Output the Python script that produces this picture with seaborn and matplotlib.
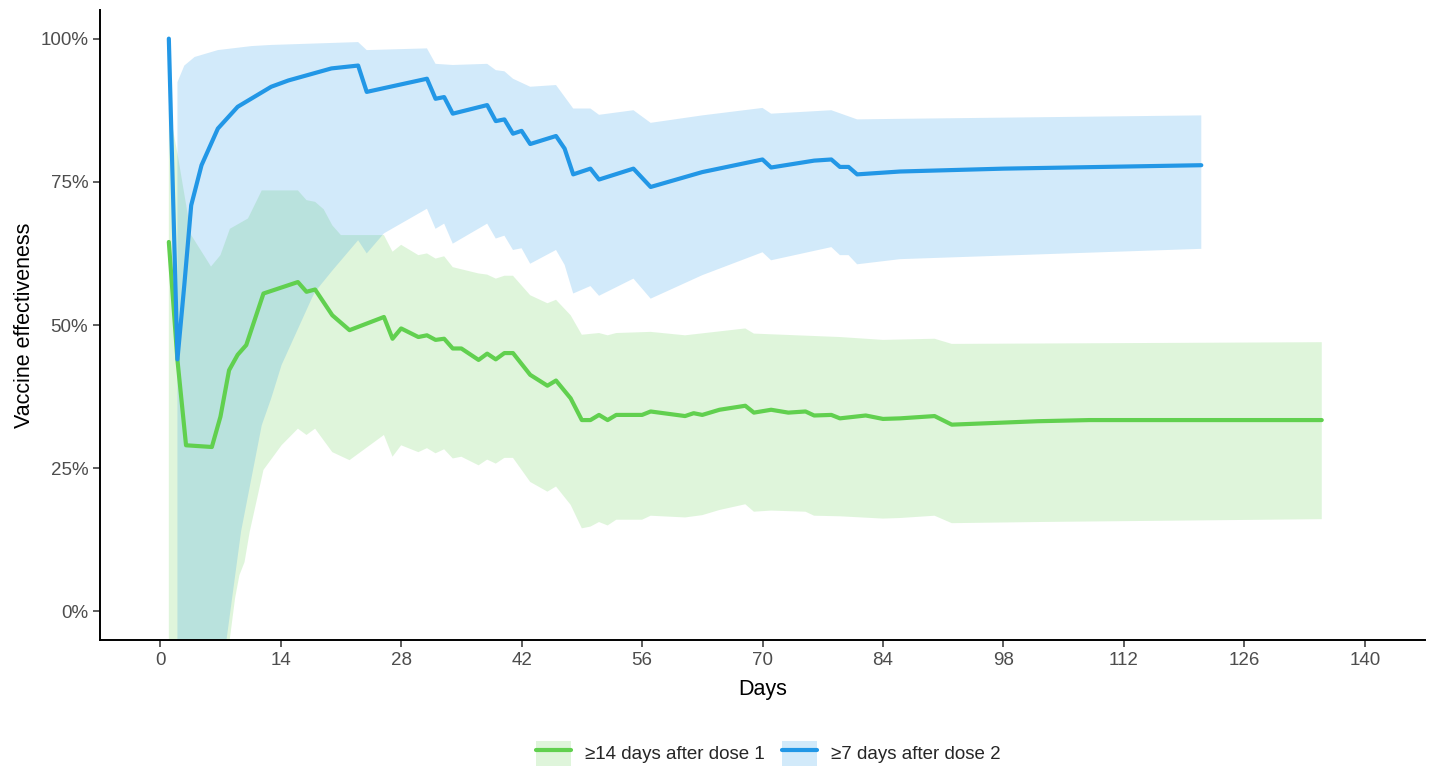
import matplotlib
matplotlib.use("Agg")
import matplotlib.pyplot as plt
import numpy as np
import pandas as pd
import seaborn as sns
from matplotlib.legend_handler import HandlerTuple
from matplotlib.lines import Line2D
from matplotlib.patches import Patch

# Datos (dias, efectividad en %)
dosis1_dias = [1, 2, 3, 6, 7, 8, 9, 10, 12, 16, 17, 18, 20, 22, 26, 27, 28, 30, 31, 32,
               33, 34, 35, 37, 38, 39, 40, 41, 43, 45, 46, 47.7, 49, 50, 51, 52, 53, 56, 57, 61,
               62, 63, 65, 68, 69, 71, 73, 75, 76, 78, 79, 82, 84, 86, 90, 92, 102, 108, 135]
dosis1_ve = [64.5, 43.9, 29.0, 28.7, 34.0, 42.1, 44.8, 46.5, 55.5, 57.5, 55.8, 56.2, 51.7, 49.1,
             51.4, 47.6, 49.4, 47.9, 48.2, 47.4, 47.6, 45.9, 45.9, 43.9, 45.0, 44.0, 45.1, 45.1,
             41.3, 39.4, 40.3, 37.2, 33.4, 33.4, 34.3, 33.4, 34.3, 34.3, 34.9, 34.1, 34.6, 34.3,
             35.2, 35.9, 34.7, 35.2, 34.7, 34.9, 34.2, 34.3, 33.7, 34.2, 33.6, 33.7, 34.1, 32.6,
             33.2, 33.4, 33.4]

dosis1_sup_dias = [1, 2, 3.6, 5.9, 7, 8.1, 10.2, 11.8, 16, 17, 18, 19, 20, 21, 26, 27, 28, 30,
                   31, 32, 33, 34, 37, 38, 39, 40, 41, 43, 45, 46, 47.7, 49, 51, 52, 53, 57, 61,
                   68, 69, 79, 84, 90, 92, 135]
dosis1_sup = [88, 80, 65.7, 60.2, 62.2, 66.8, 68.6, 73.5, 73.5, 71.8, 71.5, 70.2, 67.4, 65.7,
              65.7, 62.8, 64.0, 62.2, 62.5, 61.6, 62.0, 60.1, 59.0, 58.8, 58.1, 58.6, 58.6, 55.2,
              53.8, 54.4, 51.7, 48.3, 48.6, 48.2, 48.6, 48.8, 48.2, 49.4, 48.5, 47.9, 47.4, 47.6,
              46.7, 47.0]

dosis1_inf_dias = [1, 4, 6, 8.1, 8.7, 9.2, 9.8, 10.4, 12, 14.1, 16, 17, 18, 20, 22, 26, 27, 28,
                   30, 31, 32, 33, 34, 35, 37, 38, 39, 40, 41, 43, 45, 46, 47.7, 49, 50, 51, 52,
                   53, 56, 57, 61, 63, 65, 68, 69, 71, 75, 76, 79, 84, 86, 90, 92, 102, 135]
dosis1_inf = [-200, -100, -30, -4.7, 2.3, 6.3, 8.6, 13.9, 24.7, 29.0, 31.9, 30.8, 31.9, 27.8,
              26.4, 30.8, 27.0, 29.0, 27.8, 28.5, 27.6, 28.3, 26.7, 27.0, 25.5, 26.5, 25.8, 26.8,
              26.8, 22.6, 20.9, 21.8, 18.6, 14.5, 14.8, 15.6, 15.0, 16.0, 16.0, 16.7, 16.4, 16.8,
              17.7, 18.7, 17.4, 17.6, 17.4, 16.7, 16.6, 16.2, 16.3, 16.7, 15.4, 15.6, 16.1]

dosis2_dias = [1, 2, 2.8, 3.6, 4.8, 6.7, 9, 12.9, 14.9, 19.9, 23, 24, 31, 32, 33, 34, 38, 39,
               40, 41, 42, 43, 46, 47, 48, 50, 51, 55, 57, 63, 70, 71, 76, 78, 79, 80, 81, 86,
               98, 121]
dosis2_ve = [100, 44, 57, 70.9, 77.9, 84.3, 88.1, 91.6, 92.7, 94.8, 95.3, 90.7, 93.0, 89.5,
             89.8, 86.9, 88.4, 85.6, 85.9, 83.4, 83.9, 81.6, 83.0, 80.8, 76.3, 77.3, 75.4, 77.3,
             74.1, 76.7, 78.9, 77.5, 78.7, 78.9, 77.6, 77.6, 76.3, 76.8, 77.3, 77.9]

dosis2_sup_dias = [2, 2.8, 4, 6.7, 10.6, 12.9, 23, 24, 31, 32, 34, 38, 39, 40, 41, 43, 46, 48,
                   50, 51, 55, 57, 63, 70, 71, 78, 81, 86, 121]
dosis2_sup = [92.4, 95.3, 96.8, 98.0, 98.7, 98.9, 99.4, 98.0, 98.3, 95.6, 95.4, 95.6, 94.5,
              94.3, 93.0, 91.6, 91.9, 87.8, 87.8, 86.7, 87.5, 85.3, 86.6, 87.9, 86.9, 87.5, 85.9,
              86.0, 86.6]

dosis2_inf_dias = [2, 4, 6, 7.7, 9.4, 11.8, 12.9, 14.1, 17.6, 18, 20, 23, 24, 26, 31, 32, 33,
                   34, 38, 39, 40, 41, 42, 43, 46, 47, 48, 50, 51, 55, 57, 63, 70, 71, 78, 79,
                   80, 81, 86, 121]
dosis2_inf = [-200, -80, -25, -5, 14, 32.5, 37.2, 43, 54.6, 55.8, 59.5, 64.8, 62.5, 66, 70.3,
              66.8, 67.7, 64.2, 67.7, 65.1, 65.6, 63.1, 63.4, 60.7, 63.1, 60.5, 55.5, 56.8,
              55.1, 58.1, 54.6, 58.7, 62.7, 61.3, 63.6, 62.2, 62.2, 60.6, 61.5, 63.3]

ETIQUETAS = ["≥14 days after dose 1", "≥7 days after dose 2"]
COLORES = {ETIQUETAS[0]: "#61D04F", ETIQUETAS[1]: "#2297E6"}

sns.set_style("ticks")
plt.rcParams["font.family"] = ["Liberation Sans", "DejaVu Sans"]

df = pd.concat([
    pd.DataFrame({"dias": dosis1_dias, "ve": dosis1_ve, "grupo": ETIQUETAS[0]}),
    pd.DataFrame({"dias": dosis2_dias, "ve": dosis2_ve, "grupo": ETIQUETAS[1]}),
])

fig = plt.figure(figsize=(14.31, 7.67), dpi=100)
ax = fig.add_axes([100 / 1431, 127 / 767, 1325 / 1431, 630 / 767])

# Bandas de confianza como poligonos (superior ida, inferior vuelta)
for sup_d, sup, inf_d, inf, etiqueta in [
    (dosis1_sup_dias, dosis1_sup, dosis1_inf_dias, dosis1_inf, ETIQUETAS[0]),
    (dosis2_sup_dias, dosis2_sup, dosis2_inf_dias, dosis2_inf, ETIQUETAS[1]),
]:
    xs = np.r_[sup_d, inf_d[::-1]]
    ys = np.r_[sup, inf[::-1]]
    ax.fill(xs, ys, color=COLORES[etiqueta], alpha=0.2, lw=0)

sns.lineplot(data=df, x="dias", y="ve", hue="grupo", palette=COLORES, estimator=None,
             sort=False, linewidth=3.0, legend=False, ax=ax)

ax.set_xlim(-7, 147)
ax.set_ylim(-5, 105)
ax.set_xticks(np.arange(0, 141, 14))
ax.set_yticks([0, 25, 50, 75, 100])
ax.set_yticklabels(["0%", "25%", "50%", "75%", "100%"])
ax.set_xlabel("Days", fontsize=15.5, color="black", labelpad=7)
ax.set_ylabel("Vaccine effectiveness", fontsize=15.5, color="black", labelpad=4)
ax.tick_params(axis="both", labelsize=13.5, labelcolor="#4D4D4D", color="#333333",
               length=5, width=1.1)
sns.despine(ax=ax)
for lado in ["left", "bottom"]:
    ax.spines[lado].set_color("black")
    ax.spines[lado].set_linewidth(1.4)

handles = [
    (Patch(facecolor=COLORES[e], alpha=0.2, edgecolor="none"),
     Line2D([], [], color=COLORES[e], lw=3.0))
    for e in ETIQUETAS
]
fig.legend(handles, ETIQUETAS, loc="center", bbox_to_anchor=(0.537, 0.018), ncol=2,
           frameon=False, handlelength=1.87, handleheight=1.7, handletextpad=0.75,
           columnspacing=0.9, fontsize=13.5, borderpad=0,
           handler_map={tuple: HandlerTuple(ndivide=1, pad=0)})

fig.savefig("out.png", dpi=100)
